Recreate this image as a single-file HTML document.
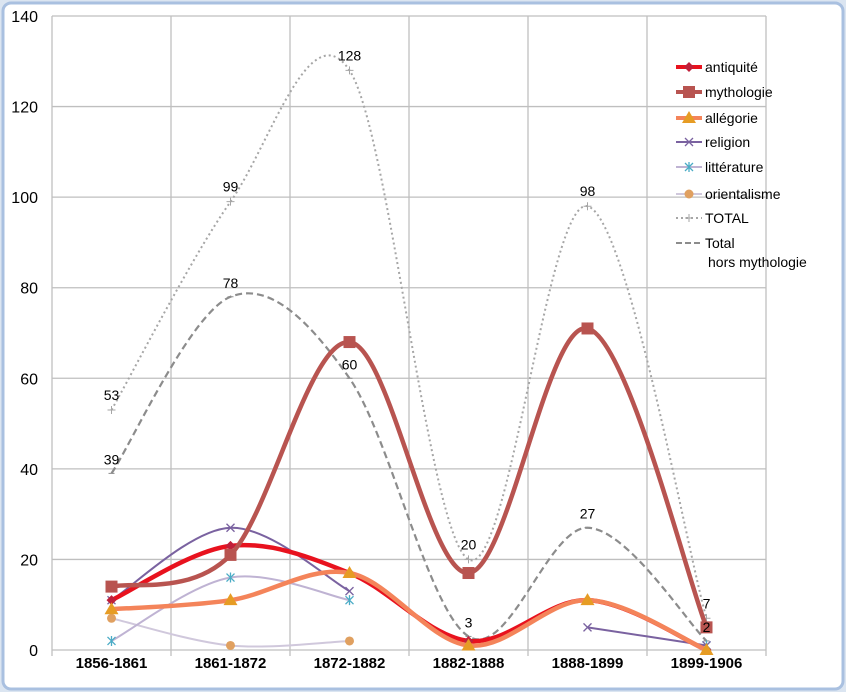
<!DOCTYPE html>
<html><head><meta charset="utf-8"><style>
body{margin:0;background:#fff;}
svg{display:block;font-family:"Liberation Sans",sans-serif;}
</style></head><body>
<svg id="chart" width="846" height="692" xmlns="http://www.w3.org/2000/svg">
<rect x="0" y="0" width="846" height="692" fill="#dbe5f1"/>
<rect x="3" y="3" width="840" height="686" rx="8" fill="#fff" stroke="#a9c0e0" stroke-width="3"/>
<g id="grid"></g>
<g id="series"></g>
<g id="labels"></g>
<g id="legend"></g>
</svg>
<script>
const categories=["1856-1861","1861-1872","1872-1882","1882-1888","1888-1899","1899-1906"];
const yTicks=[0,20,40,60,80,100,120,140];
const antiquite=[11,23,17,2,11,0];
const mythologie=[14,21,68,17,71,5];
const allegorie=[9,11,17,1,11,0];
const religion=[11,27,13,null,5,1];
const litterature=[2,16,11,null,null,1];
const orientalisme=[7,1,2,null,null,null];
const total=[53,99,128,20,98,7];
const horsMyth=[39,78,60,3,27,2];

const NS="http://www.w3.org/2000/svg";
const L=52,R=766,Y0=650,Y1=16,YMAX=140;
const cw=(R-L)/categories.length;
function xs(i){return L+cw*(i+0.5);}
function ys(v){return Y0-(v/YMAX)*(Y0-Y1);}
function mk(tag,attrs,parent){const e=document.createElementNS(NS,tag);for(const k in attrs)e.setAttribute(k,attrs[k]);parent.appendChild(e);return e;}
const grid=document.getElementById('grid'),ser=document.getElementById('series'),lab=document.getElementById('labels'),leg=document.getElementById('legend');

yTicks.forEach(t=>{
  const ln=mk('line',{x1:L,x2:R,y1:ys(t),y2:ys(t),stroke:'#bfbfbf','stroke-width':1.3},grid);
  
  
  const tx=mk('text',{x:38,y:ys(t)+6,'text-anchor':'end','font-size':16,fill:'#000'},grid);
  tx.textContent=t;
  
  
});
for(let i=0;i<=categories.length;i++){
  const ln=mk('line',{x1:L+cw*i,x2:L+cw*i,y1:Y1,y2:Y0+6,stroke:'#bfbfbf','stroke-width':1.3},grid);
  
  
}
categories.forEach((c,i)=>{
  const tx=mk('text',{x:xs(i),y:668,'text-anchor':'middle','font-size':15,'font-weight':'bold',fill:'#000'},grid);
  tx.textContent=c;
  
  
});

function smoothPath(vals){
  let d='';let segs=[];let cur=[];
  vals.forEach((v,i)=>{if(v==null){if(cur.length)segs.push(cur);cur=[];}else cur.push([xs(i),ys(v)]);});
  if(cur.length)segs.push(cur);
  segs.forEach(p=>{
    d+='M'+p[0][0]+','+p[0][1];
    for(let i=0;i<p.length-1;i++){
      const p0=p[i-1]||p[i],p1=p[i],p2=p[i+1],p3=p[i+2]||p2;
      const c1=[p1[0]+(p2[0]-p0[0])/6,p1[1]+(p2[1]-p0[1])/6];
      const c2=[p2[0]-(p3[0]-p1[0])/6,p2[1]-(p3[1]-p1[1])/6];
      d+=' C'+c1+' '+c2+' '+p2;
    }
  });
  return d;
}
function marker(type,x,y,color,parent){
  let e;
  if(type==='diamond')e=mk('path',{d:`M${x},${y-5}L${x+5},${y}L${x},${y+5}L${x-5},${y}Z`,fill:color},parent);
  else if(type==='square')e=mk('rect',{x:x-6,y:y-6,width:12,height:12,fill:color},parent);
  else if(type==='triangle')e=mk('path',{d:`M${x},${y-7}L${x+7},${y+5}L${x-7},${y+5}Z`,fill:'#e69c24'},parent);
  else if(type==='x')e=mk('path',{d:`M${x-4},${y-4}L${x+4},${y+4}M${x-4},${y+4}L${x+4},${y-4}`,stroke:color,'stroke-width':1.3},parent);
  else if(type==='star')e=mk('path',{d:`M${x-4},${y-4}L${x+4},${y+4}M${x-4},${y+4}L${x+4},${y-4}M${x},${y-5}L${x},${y+5}`,stroke:color,'stroke-width':1.3},parent);
  else if(type==='circle')e=mk('circle',{cx:x,cy:y,r:4.5,fill:'#e0a060'},parent);
  else if(type==='plus')e=mk('path',{d:`M${x-4},${y}L${x+4},${y}M${x},${y-4}L${x},${y+4}`,stroke:color,'stroke-width':1},parent);
  else e=mk('path',{d:`M${x-3},${y}L${x+3},${y}`,stroke:color,'stroke-width':1},parent);
  return e;
}
const defs=[
 {v:total,name:'total-line',color:'#a6a6a6',w:2,dash:'2,3',m:'plus'},
 {v:horsMyth,name:'total-hors-mythologie-line',color:'#8c8c8c',w:2.2,dash:'7,4',m:'dash'},
 {v:orientalisme,name:'orientalisme-line',color:'#d0c8dc',w:2,m:'circle'},
 {v:litterature,name:'litterature-line',color:'#bfb3d3',w:2,m:'star',mc:'#4bacc6'},
 {v:religion,name:'religion-line',color:'#7a62a0',w:2,m:'x'},
 {v:antiquite,name:'antiquite-line',color:'#e8121e',w:4.5,m:'diamond',mc:'#c0203a'},
 {v:allegorie,name:'allegorie-line',color:'#f4845a',w:4.5,m:'triangle'},
 {v:mythologie,name:'mythologie-line',color:'#b85450',w:4.5,m:'square'}
];
defs.forEach(s=>{
  const g=mk('g',{},ser);
  
  
  const a={d:smoothPath(s.v),fill:'none',stroke:s.color,'stroke-width':s.w,'stroke-linecap':'round'};
  if(s.dash){a['stroke-dasharray']=s.dash;a['stroke-linecap']='butt';}
  mk('path',a,g);
  s.v.forEach((v,i)=>{if(v==null)return;
    const m=marker(s.m,xs(i),ys(v),s.mc||s.color,g);
    
    
  });
});
function addLabels(vals,dy){
  vals.forEach((v,i)=>{
    const tx=mk('text',{x:xs(i),y:ys(v)+dy,'text-anchor':'middle','font-size':14,fill:'#000'},lab);
    tx.textContent=v;
    
    
  });
}
addLabels(total,-10);
addLabels(horsMyth,-9);
const legItems=[
 ['antiquité','#e8121e',4,'diamond','#c0203a',null],
 ['mythologie','#b85450',4,'square','#b85450',null],
 ['allégorie','#f4845a',4,'triangle','#e69c24',null],
 ['religion','#7a62a0',2,'x','#7a62a0',null],
 ['littérature','#bfb3d3',2,'star','#4bacc6',null],
 ['orientalisme','#d0c8dc',2,'circle','#e0a060',null],
 ['TOTAL','#a6a6a6',2,'plus','#a6a6a6','2,3'],
 ['Total','#8c8c8c',2,'dash','#8c8c8c','6,3']
];
const legY=[67,92,118,142,167,194,218,243];
legItems.forEach((it,i)=>{
  const g=mk('g',{},leg);
  
  
  const y=legY[i];
  const a={x1:676,x2:702,y1:y,y2:y,stroke:it[1],'stroke-width':it[2]};
  if(it[5])a['stroke-dasharray']=it[5];
  mk('line',a,g);
  if(it[3]!=='dash'){marker(it[3],689,y,it[4],g);}
  const tx=mk('text',{x:705,y:y+5,'font-size':14,fill:'#000'},g);
  tx.textContent=it[0];
});
const t2=mk('text',{x:708,y:267,'font-size':14,fill:'#000'},leg);
t2.textContent='hors mythologie';


</script>
</body></html>
